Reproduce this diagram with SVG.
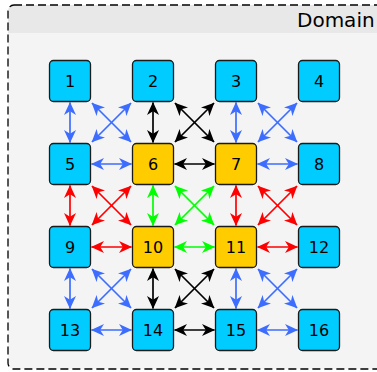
<svg xmlns="http://www.w3.org/2000/svg" width="377" height="372" viewBox="0 0 377 372">
<style>
.node rect{stroke:#1a1a1a;stroke-width:1.3}
.cy rect{fill:#00ccff}
.yl rect{fill:#ffcc00}
.node text{font-family:"DejaVu Sans",sans-serif;font-size:16px;text-anchor:middle;fill:#000}
.e{stroke-width:1.7;fill:none}
.b{stroke:#3d6dff;marker-start:url(#mb);marker-end:url(#mb)}
.k{stroke:#000;marker-start:url(#mk);marker-end:url(#mk)}
.r{stroke:#ff0000;marker-start:url(#mr);marker-end:url(#mr)}
.g{stroke:#00ff00;marker-start:url(#mg);marker-end:url(#mg)}
</style>
<defs>
<marker id="mb" viewBox="0 0 13 12" refX="12.5" refY="6" markerWidth="13" markerHeight="12" markerUnits="userSpaceOnUse" orient="auto-start-reverse"><path d="M0,0 L13,6 L0,12 L3.8,6 z" fill="#3d6dff"/></marker>
<marker id="mk" viewBox="0 0 13 12" refX="12.5" refY="6" markerWidth="13" markerHeight="12" markerUnits="userSpaceOnUse" orient="auto-start-reverse"><path d="M0,0 L13,6 L0,12 L3.8,6 z" fill="#000"/></marker>
<marker id="mr" viewBox="0 0 13 12" refX="12.5" refY="6" markerWidth="13" markerHeight="12" markerUnits="userSpaceOnUse" orient="auto-start-reverse"><path d="M0,0 L13,6 L0,12 L3.8,6 z" fill="#ff0000"/></marker>
<marker id="mg" viewBox="0 0 13 12" refX="12.5" refY="6" markerWidth="13" markerHeight="12" markerUnits="userSpaceOnUse" orient="auto-start-reverse"><path d="M0,0 L13,6 L0,12 L3.8,6 z" fill="#00ff00"/></marker>
</defs>
<g id="domain">
<rect x="8" y="5" width="400" height="364" rx="6" fill="#f4f4f4"/>
<path d="M8,33 V11 a6,6 0 0 1 6,-6 H408 V33 z" fill="#e8e8e8"/>
<rect x="8" y="5" width="400" height="364" rx="6" fill="none" stroke="#000" stroke-width="1.3" stroke-dasharray="8,4"/>
<text x="297" y="27" font-family="DejaVu Sans, sans-serif" font-size="20" fill="#000">Domain</text>
</g>
<g id="connectors">
<line class="e b" x1="70" y1="102.5" x2="70" y2="142.5"/>
<line class="e b" x1="91.5" y1="164" x2="131.5" y2="164"/>
<line class="e b" x1="92" y1="103" x2="131" y2="142"/>
<line class="e b" x1="131" y1="103" x2="92" y2="142"/>
<line class="e k" x1="153" y1="102.5" x2="153" y2="142.5"/>
<line class="e k" x1="174.5" y1="164" x2="214.5" y2="164"/>
<line class="e k" x1="175" y1="103" x2="214" y2="142"/>
<line class="e k" x1="214" y1="103" x2="175" y2="142"/>
<line class="e b" x1="236" y1="102.5" x2="236" y2="142.5"/>
<line class="e b" x1="257.5" y1="164" x2="297.5" y2="164"/>
<line class="e b" x1="258" y1="103" x2="297" y2="142"/>
<line class="e b" x1="297" y1="103" x2="258" y2="142"/>
<line class="e r" x1="70" y1="185.5" x2="70" y2="225.5"/>
<line class="e r" x1="91.5" y1="247" x2="131.5" y2="247"/>
<line class="e r" x1="92" y1="186" x2="131" y2="225"/>
<line class="e r" x1="131" y1="186" x2="92" y2="225"/>
<line class="e g" x1="153" y1="185.5" x2="153" y2="225.5"/>
<line class="e g" x1="174.5" y1="247" x2="214.5" y2="247"/>
<line class="e g" x1="175" y1="186" x2="214" y2="225"/>
<line class="e g" x1="214" y1="186" x2="175" y2="225"/>
<line class="e r" x1="236" y1="185.5" x2="236" y2="225.5"/>
<line class="e r" x1="257.5" y1="247" x2="297.5" y2="247"/>
<line class="e r" x1="258" y1="186" x2="297" y2="225"/>
<line class="e r" x1="297" y1="186" x2="258" y2="225"/>
<line class="e b" x1="70" y1="268.5" x2="70" y2="308.5"/>
<line class="e b" x1="91.5" y1="330" x2="131.5" y2="330"/>
<line class="e b" x1="92" y1="269" x2="131" y2="308"/>
<line class="e b" x1="131" y1="269" x2="92" y2="308"/>
<line class="e k" x1="153" y1="268.5" x2="153" y2="308.5"/>
<line class="e k" x1="174.5" y1="330" x2="214.5" y2="330"/>
<line class="e k" x1="175" y1="269" x2="214" y2="308"/>
<line class="e k" x1="214" y1="269" x2="175" y2="308"/>
<line class="e b" x1="236" y1="268.5" x2="236" y2="308.5"/>
<line class="e b" x1="257.5" y1="330" x2="297.5" y2="330"/>
<line class="e b" x1="258" y1="269" x2="297" y2="308"/>
<line class="e b" x1="297" y1="269" x2="258" y2="308"/>
</g>
<g id="n1" class="node cy"><rect x="49.5" y="60.5" width="41" height="41" rx="4"/><text x="70" y="87">1</text></g>
<g id="n2" class="node cy"><rect x="132.5" y="60.5" width="41" height="41" rx="4"/><text x="153" y="87">2</text></g>
<g id="n3" class="node cy"><rect x="215.5" y="60.5" width="41" height="41" rx="4"/><text x="236" y="87">3</text></g>
<g id="n4" class="node cy"><rect x="298.5" y="60.5" width="41" height="41" rx="4"/><text x="319" y="87">4</text></g>
<g id="n5" class="node cy"><rect x="49.5" y="143.5" width="41" height="41" rx="4"/><text x="70" y="170">5</text></g>
<g id="n6" class="node yl"><rect x="132.5" y="143.5" width="41" height="41" rx="4"/><text x="153" y="170">6</text></g>
<g id="n7" class="node yl"><rect x="215.5" y="143.5" width="41" height="41" rx="4"/><text x="236" y="170">7</text></g>
<g id="n8" class="node cy"><rect x="298.5" y="143.5" width="41" height="41" rx="4"/><text x="319" y="170">8</text></g>
<g id="n9" class="node cy"><rect x="49.5" y="226.5" width="41" height="41" rx="4"/><text x="70" y="253">9</text></g>
<g id="n10" class="node yl"><rect x="132.5" y="226.5" width="41" height="41" rx="4"/><text x="153" y="253">10</text></g>
<g id="n11" class="node yl"><rect x="215.5" y="226.5" width="41" height="41" rx="4"/><text x="236" y="253">11</text></g>
<g id="n12" class="node cy"><rect x="298.5" y="226.5" width="41" height="41" rx="4"/><text x="319" y="253">12</text></g>
<g id="n13" class="node cy"><rect x="49.5" y="309.5" width="41" height="41" rx="4"/><text x="70" y="336">13</text></g>
<g id="n14" class="node cy"><rect x="132.5" y="309.5" width="41" height="41" rx="4"/><text x="153" y="336">14</text></g>
<g id="n15" class="node cy"><rect x="215.5" y="309.5" width="41" height="41" rx="4"/><text x="236" y="336">15</text></g>
<g id="n16" class="node cy"><rect x="298.5" y="309.5" width="41" height="41" rx="4"/><text x="319" y="336">16</text></g>
</svg>
